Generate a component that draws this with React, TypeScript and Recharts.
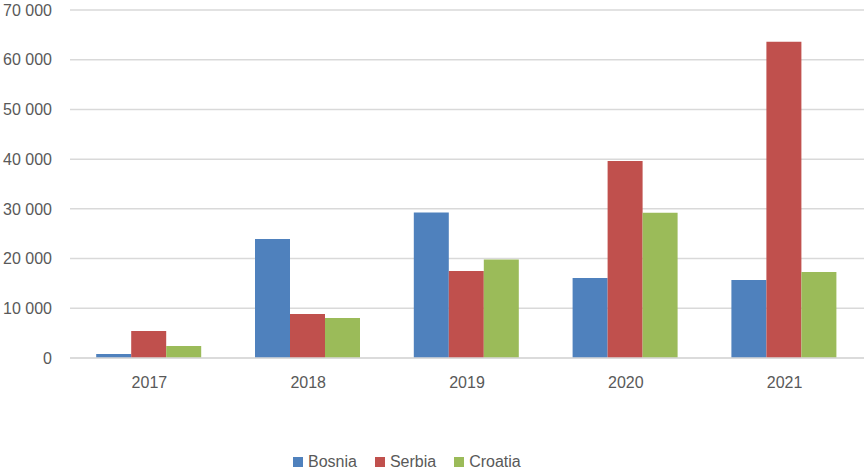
import React from "react";
import { BarChart, Bar, XAxis, YAxis, CartesianGrid, Legend } from "recharts";

const years = ["2017", "2018", "2019", "2020", "2021"];
const bosnia = [800, 23950, 29250, 16100, 15700];
const serbia = [5430, 8850, 17500, 39650, 63600];
const croatia = [2400, 8050, 19800, 29200, 17300];
const yTicks = [0, 10000, 20000, 30000, 40000, 50000, 60000, 70000];
const seriesNames = ["Bosnia", "Serbia", "Croatia"];
const seriesColors = ["#4F81BD", "#C0504D", "#9BBB59"];

const data = years.map((y, i) => ({
  year: y,
  Bosnia: bosnia[i],
  Serbia: serbia[i],
  Croatia: croatia[i],
}));

const fmt = (v: number) => {
  if (v === 0) return "0";
  const s = String(v);
  return s.slice(0, s.length - 3) + " " + s.slice(s.length - 3);
};

const FONT = "'Liberation Sans', Arial, sans-serif";
const TXT = "#595959";

const LegendContent = () => (
  <div
    style={{
      display: "flex",
      justifyContent: "flex-start",
      alignItems: "center",
      paddingTop: 14,
      paddingLeft: 293,
      fontFamily: FONT,
      fontSize: 16,
      color: TXT,
      lineHeight: "16px",
      height: 16,
    }}
  >
    {seriesNames.map((n, i) => (
      <div key={n} style={{ display: "flex", alignItems: "center", marginRight: i < 2 ? 18 : 0 }}>
        <span style={{ display: "inline-block", width: 10, height: 10, background: seriesColors[i], marginRight: 5 }} />
        <span>{n}</span>
      </div>
    ))}
  </div>
);

export default function App() {
  return (
    <div style={{ position: "absolute", left: 0, top: 0, fontFamily: FONT }}>
      <BarChart
        width={864}
        height={470}
        data={data}
        margin={{ top: 10, right: 0, left: 0, bottom: 0 }}
        barCategoryGap="16.5%"
        barGap={0}
      >
        <CartesianGrid vertical={false} stroke="#d9d9d9" strokeWidth={1.5} />
        <XAxis
          dataKey="year"
          height={82}
          tickLine={false}
          tickSize={0}
          tickMargin={19}
          axisLine={{ stroke: "#d9d9d9", strokeWidth: 1.5 }}
          tick={{ fill: TXT, fontSize: 16, fontFamily: FONT }}
        />
        <YAxis
          width={70}
          domain={[0, 70000]}
          ticks={yTicks}
          tickFormatter={fmt}
          axisLine={false}
          tickLine={false}
          tickSize={0}
          tickMargin={18}
          tick={{ fill: TXT, fontSize: 16, fontFamily: FONT }}
        />
        <Legend
          verticalAlign="bottom"
          height={30}
          wrapperStyle={{ left: 0, width: 864 }}
          content={<LegendContent />}
        />
        {seriesNames.map((n, i) => (
          <Bar key={n} dataKey={n} fill={seriesColors[i]} isAnimationActive={false} />
        ))}
      </BarChart>
    </div>
  );
}
